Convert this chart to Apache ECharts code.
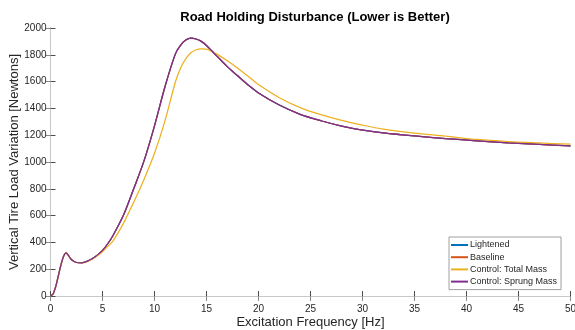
<!DOCTYPE html>
<html>
<head>
<meta charset="utf-8">
<script src="https://cdn.jsdelivr.net/npm/echarts@6/dist/echarts.min.js"></script>
<style>
html, body { margin: 0; padding: 0; background: #fff; }
#chart { width: 575px; height: 330px; }
</style>
</head>
<body>
<div id="chart"></div>
<script>
// frequencies [Hz]
var freq = [0, 0.25, 0.5, 0.75, 1, 1.25, 1.5, 1.75, 2, 2.5, 3, 3.5, 4, 4.5, 5, 5.5, 6, 7, 8, 9, 10, 11, 12, 12.5, 13, 13.5, 14, 14.5, 15, 15.5, 16, 17, 18, 19, 20, 22, 24, 26, 28, 30, 32, 35, 38, 41, 44, 47, 50];
// sprung mass control (lightened / baseline lie underneath it)
var sprungMass = [0, 15, 70, 150, 230, 295, 322, 300, 272, 250, 248, 258, 278, 305, 340, 390, 450, 600, 800, 1010, 1270, 1560, 1805, 1870, 1910, 1925, 1918, 1900, 1870, 1830, 1790, 1712, 1643, 1575, 1515, 1425, 1356, 1308, 1268, 1238, 1218, 1195, 1175, 1158, 1143, 1131, 1120];
var lightened = sprungMass.slice();
var baseline = sprungMass.slice();
var totalMass = [0, 15, 70, 150, 230, 295, 322, 300, 272, 250, 248, 257, 275, 300, 330, 370, 410, 540, 700, 872, 1065, 1305, 1595, 1700, 1770, 1815, 1838, 1845, 1843, 1825, 1805, 1755, 1700, 1640, 1578, 1480, 1406, 1353, 1310, 1275, 1245, 1215, 1193, 1168, 1152, 1142, 1133];

var names = ['Lightened', 'Baseline', 'Control: Total Mass', 'Control: Sprung Mass'];
var colors = ['#0072BD', '#D95319', '#EDB120', '#7E2F8E'];
var values = [lightened, baseline, totalMass, sprungMass];

function pairs(ys) {
	var out = [];
	for (var i = 0; i < freq.length; i++) {
		out.push([freq[i], ys[i]]);
	}
	return out;
}

var myChart = echarts.init(document.getElementById('chart'), null, { renderer: 'canvas' });

var axisColor = '#4d4d4d';
var font = 'Liberation Sans, Arial, sans-serif';
var labelStyle = { color: '#262626', fontSize: 10, fontFamily: font, formatter: function (v) { return String(v); } };

var series = [];
for (var k = 0; k < names.length; k++) {
	series.push({
		name: names[k],
		type: 'line',
		data: pairs(values[k]),
		smooth: 0.3,
		showSymbol: false,
		lineStyle: { color: colors[k], width: 1.25 },
		itemStyle: { color: colors[k] },
		z: 2 + k
	});
}

var option = {
	animation: false,
	backgroundColor: '#fff',
	title: {
		text: 'Road Holding Disturbance (Lower is Better)',
		left: 310,
		top: 6,
		textAlign: 'center',
		textStyle: { fontSize: 13, fontWeight: 'bold', color: '#000', fontFamily: font }
	},
	grid: { left: 50.5, right: 4.5, top: 28, bottom: 34, containLabel: false, outerBoundsMode: 'none' },
	legend: {
		orient: 'vertical',
		left: 449,
		top: 237,
		padding: [3, 4, 3, 2],
		itemWidth: 17,
		itemHeight: 2,
		itemGap: 2.2,
		icon: 'rect',
		backgroundColor: '#fff',
		borderColor: '#888',
		borderWidth: 0.8,
		borderRadius: 0,
		textStyle: { fontSize: 9, lineHeight: 10, color: '#262626', padding: [0, 0, 0, -3], fontFamily: font },
		data: names
	},
	xAxis: [{
		type: 'value',
		min: 0,
		max: 50,
		interval: 5,
		name: 'Excitation Frequency [Hz]',
		nameLocation: 'middle',
		nameGap: 20,
		nameMoveOverlap: false,
		nameTextStyle: { fontSize: 13, color: '#262626', fontFamily: font },
		axisLine: { lineStyle: { color: axisColor, width: 1 } },
		axisTick: { inside: true, length: 5, lineStyle: { color: axisColor } },
		axisLabel: labelStyle,
		splitLine: { show: false }
	}, {
		type: 'value',
		position: 'top',
		min: 0,
		max: 50,
		interval: 5,
		axisLine: { show: true, lineStyle: { color: '#c8c8c8' } },
		axisTick: { show: true, inside: true, length: 5, lineStyle: { color: '#888' } },
		axisLabel: { show: false },
		splitLine: { show: false }
	}],
	yAxis: [{
		type: 'value',
		min: 0,
		max: 2000,
		interval: 200,
		name: 'Vertical Tire Load Variation [Newtons]',
		nameLocation: 'middle',
		nameGap: 30,
		nameMoveOverlap: false,
		nameTextStyle: { fontSize: 13, color: '#262626', fontFamily: font },
		axisLine: { show: true, lineStyle: { color: axisColor, width: 1 } },
		axisTick: { show: true, inside: true, length: 5, lineStyle: { color: axisColor } },
		axisLabel: Object.assign({ margin: 4 }, labelStyle),
		splitLine: { show: false }
	}, {
		type: 'value',
		position: 'right',
		min: 0,
		max: 2000,
		interval: 200,
		axisLine: { show: true, lineStyle: { color: '#c8c8c8' } },
		axisTick: { show: true, inside: true, length: 5, lineStyle: { color: '#888' } },
		axisLabel: { show: false },
		splitLine: { show: false }
	}],
	series: series
};

myChart.setOption(option);
</script>
</body>
</html>
